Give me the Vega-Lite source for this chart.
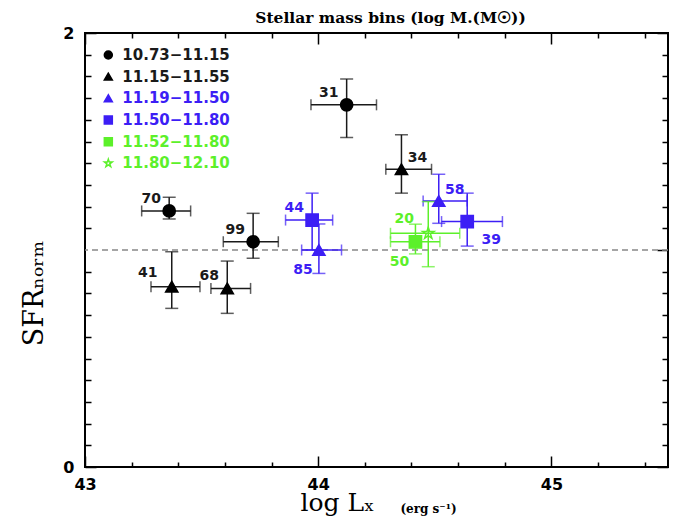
{
  "$schema": "https://vega.github.io/schema/vega-lite/v6.json",
  "width": 583,
  "height": 434,
  "autosize": "none",
  "padding": {"left": 85, "top": 33, "right": 5, "bottom": 52},
  "background": "white",
  "title": {"text": "Stellar mass bins (log M.(M☉))", "font": "DejaVu Serif", "fontSize": 15.5, "fontWeight": "bold", "anchor": "middle", "dx": 14, "offset": -13, "baseline": "alphabetic", "color": "black"},
  "config": {
    "view": {"stroke": "black", "strokeWidth": 2},
    "axis": {"domain": false, "grid": false, "tickColor": "black", "tickWidth": 1.5, "labelColor": "black", "labelFont": "DejaVu Sans", "labelFontWeight": "bold", "labelFontSize": 16, "titleColor": "black", "labelFlush": false}
  },
  "data": {"values": [
    {"n": "70", "g": "10.73−11.15", "x": 43.361, "y": 1.18, "xlo": 43.243, "xhi": 43.453, "ylo": 1.143, "yhi": 1.243},
    {"n": "99", "g": "10.73−11.15", "x": 43.721, "y": 1.038, "xlo": 43.593, "xhi": 43.829, "ylo": 0.962, "yhi": 1.169},
    {"n": "31", "g": "10.73−11.15", "x": 44.122, "y": 1.669, "xlo": 43.969, "xhi": 44.25, "ylo": 1.518, "yhi": 1.788},
    {"n": "41", "g": "11.15−11.55", "x": 43.372, "y": 0.831, "xlo": 43.283, "xhi": 43.493, "ylo": 0.731, "yhi": 0.992},
    {"n": "68", "g": "11.15−11.55", "x": 43.61, "y": 0.823, "xlo": 43.54, "xhi": 43.71, "ylo": 0.708, "yhi": 0.949},
    {"n": "34", "g": "11.15−11.55", "x": 44.357, "y": 1.372, "xlo": 44.29, "xhi": 44.486, "ylo": 1.262, "yhi": 1.531},
    {"n": "85", "g": "11.19−11.50", "x": 44.003, "y": 1.0, "xlo": 43.929, "xhi": 44.1, "ylo": 0.892, "yhi": 1.12},
    {"n": "58", "g": "11.19−11.50", "x": 44.517, "y": 1.226, "xlo": 44.45, "xhi": 44.639, "ylo": 1.123, "yhi": 1.349},
    {"n": "44", "g": "11.50−11.80", "x": 43.974, "y": 1.138, "xlo": 43.86, "xhi": 44.062, "ylo": 1.0, "yhi": 1.262},
    {"n": "39", "g": "11.50−11.80", "x": 44.639, "y": 1.131, "xlo": 44.529, "xhi": 44.79, "ylo": 1.018, "yhi": 1.262},
    {"n": "50", "g": "11.52−11.80", "x": 44.417, "y": 1.038, "xlo": 44.31, "xhi": 44.522, "ylo": 0.982, "yhi": 1.119},
    {"n": "20", "g": "11.80−12.10", "x": 44.472, "y": 1.077, "xlo": 44.31, "xhi": 44.607, "ylo": 0.923, "yhi": 1.223}
  ]},
  "resolve": {"scale": {"y": "independent"}, "axis": {"x": "independent", "y": "independent"}},
  "layer": [
    {
      "data": {"values": [{}]},
      "mark": {"type": "rule", "strokeDash": [6, 4], "color": "#888888", "strokeWidth": 1.5},
      "encoding": {"y": {"datum": 1, "type": "quantitative", "scale": {"domain": [0, 2], "nice": false, "zero": false}, "axis": null}}
    },
    {
      "mark": {"type": "errorbar", "ticks": {"size": 11}, "thickness": 1.5},
      "encoding": {
        "x": {"field": "xlo", "type": "quantitative", "scale": {"domain": [43, 45.5], "nice": false, "zero": false}, "axis": null},
        "x2": {"field": "xhi"},
        "y": {"field": "y", "type": "quantitative", "scale": {"domain": [0, 2], "nice": false, "zero": false}, "axis": null},
        "color": {"field": "g", "type": "nominal", "scale": {"domain": ["10.73−11.15", "11.15−11.55", "11.19−11.50", "11.50−11.80", "11.52−11.80", "11.80−12.10"], "range": ["#1a1a1a", "#1a1a1a", "#3c1ef5", "#3c1ef5", "#5cf02a", "#5cf02a"]}, "legend": null}
      }
    },
    {
      "mark": {"type": "errorbar", "ticks": {"size": 13}, "thickness": 1.5},
      "encoding": {
        "y": {"field": "ylo", "type": "quantitative", "scale": {"domain": [0, 2], "nice": false, "zero": false}, "axis": null},
        "y2": {"field": "yhi"},
        "x": {"field": "x", "type": "quantitative", "scale": {"domain": [43, 45.5], "nice": false, "zero": false}, "axis": null},
        "color": {"field": "g", "type": "nominal", "scale": {"domain": ["10.73−11.15", "11.15−11.55", "11.19−11.50", "11.50−11.80", "11.52−11.80", "11.80−12.10"], "range": ["#1a1a1a", "#1a1a1a", "#3c1ef5", "#3c1ef5", "#5cf02a", "#5cf02a"]}, "legend": null}
      }
    },
    {
      "mark": {"type": "point", "size": 150, "strokeWidth": 1.5, "opacity": 1},
      "encoding": {
        "x": {"field": "x", "type": "quantitative", "scale": {"domain": [43, 45.5], "nice": false, "zero": false},
              "axis": {"orient": "bottom", "values": [43, 44, 45], "tickSize": -11, "labelPadding": 20, "format": "d", "title": "log Lₓ", "titleFont": "DejaVu Serif", "titleFontSize": 25, "titleFontWeight": "normal", "titleX": 252, "titleY": 43, "titleBaseline": "alphabetic", "titleAlign": "center"}},
        "y": {"field": "y", "type": "quantitative", "scale": {"domain": [0, 2], "nice": false, "zero": false},
              "axis": {"orient": "left", "values": [0, 1, 2], "tickSize": -11, "labelPadding": 22, "format": "d", "title": "SFRₙₒᵣₘ", "titleFont": "DejaVu Serif", "titleFontSize": 27, "titleFontWeight": "normal", "titleX": -43, "titleY": 260, "titleAngle": -90, "titleBaseline": "alphabetic", "titleAlign": "center"}},
        "shape": {"field": "g", "type": "nominal",
                  "scale": {"domain": ["10.73−11.15", "11.15−11.55", "11.19−11.50", "11.50−11.80", "11.52−11.80", "11.80−12.10"], "range": ["circle", "triangle-up", "triangle-up", "square", "square", "M0,-1L0.2245,-0.309L0.9511,-0.309L0.3633,0.118L0.5878,0.809L0,0.382L-0.5878,0.809L-0.3633,0.118L-0.9511,-0.309L-0.2245,-0.309Z"]},
                  "legend": null},
        "fill": {"field": "g", "type": "nominal", "scale": {"domain": ["10.73−11.15", "11.15−11.55", "11.19−11.50", "11.50−11.80", "11.52−11.80", "11.80−12.10"], "range": ["#000000", "#000000", "#3c1ef5", "#3c1ef5", "#5cf02a", "transparent"]}, "legend": null},
        "stroke": {"field": "g", "type": "nominal", "scale": {"domain": ["10.73−11.15", "11.15−11.55", "11.19−11.50", "11.50−11.80", "11.52−11.80", "11.80−12.10"], "range": ["#000000", "#000000", "#3c1ef5", "#3c1ef5", "#5cf02a", "#5cf02a"]}, "legend": null}
      }
    },
    {
      "data": {"values": [{"g": "10.73−11.15"}, {"g": "11.15−11.55"}, {"g": "11.19−11.50"}, {"g": "11.50−11.80"}, {"g": "11.52−11.80"}, {"g": "11.80−12.10"}]},
      "mark": {"type": "point", "size": 64, "strokeWidth": 1.5, "opacity": 1},
      "encoding": {
        "x": {"datum": 43.1, "type": "quantitative", "scale": {"domain": [43, 45.5], "nice": false, "zero": false}, "axis": null},
        "y": {"field": "g", "type": "ordinal", "scale": {"type": "point", "domain": ["10.73−11.15", "11.15−11.55", "11.19−11.50", "11.50−11.80", "11.52−11.80", "11.80−12.10"], "range": [22, 130.3], "padding": 0}, "axis": null},
        "shape": {"field": "g", "type": "nominal", "legend": null},
        "fill": {"field": "g", "type": "nominal", "legend": null},
        "stroke": {"field": "g", "type": "nominal", "legend": null}
      }
    },
    {
      "data": {"values": [{"g": "10.73−11.15"}, {"g": "11.15−11.55"}, {"g": "11.19−11.50"}, {"g": "11.50−11.80"}, {"g": "11.52−11.80"}, {"g": "11.80−12.10"}]},
      "mark": {"type": "text", "font": "DejaVu Sans", "fontSize": 15, "fontWeight": "bold", "align": "left", "baseline": "middle", "dx": 14},
      "encoding": {
        "x": {"datum": 43.1, "type": "quantitative", "scale": {"domain": [43, 45.5], "nice": false, "zero": false}, "axis": null},
        "y": {"field": "g", "type": "ordinal", "scale": {"type": "point", "domain": ["10.73−11.15", "11.15−11.55", "11.19−11.50", "11.50−11.80", "11.52−11.80", "11.80−12.10"], "range": [22, 130.3], "padding": 0}, "axis": null},
        "text": {"field": "g"},
        "color": {"field": "g", "type": "nominal", "scale": {"domain": ["10.73−11.15", "11.15−11.55", "11.19−11.50", "11.50−11.80", "11.52−11.80", "11.80−12.10"], "range": ["#1a1a1a", "#1a1a1a", "#3c1ef5", "#3c1ef5", "#5cf02a", "#5cf02a"]}, "legend": null}
      }
    },
    {
      "transform": [{"filter": "indexof(['70','99','31','68','44'], datum.n) >= 0"}],
      "mark": {"type": "text", "font": "DejaVu Sans", "fontSize": 14, "fontWeight": "bold", "dx": -18, "dy": -12, "align": "center", "baseline": "middle"},
      "encoding": {
        "x": {"field": "x", "type": "quantitative", "scale": {"domain": [43, 45.5], "nice": false, "zero": false},
              "axis": {"orient": "bottom", "values": [43.2, 43.4, 43.6, 43.8, 44.2, 44.4, 44.6, 44.8, 45.2, 45.4], "tickSize": -5, "labels": false, "title": "(erg s⁻¹)", "titleFont": "DejaVu Serif", "titleFontSize": 12, "titleFontWeight": "bold", "titleX": 343, "titleY": 45, "titleBaseline": "alphabetic", "titleAlign": "center"}},
        "y": {"field": "y", "type": "quantitative", "scale": {"domain": [0, 2], "nice": false, "zero": false},
              "axis": {"orient": "left", "values": [0.1, 0.2, 0.3, 0.4, 0.5, 0.6, 0.7, 0.8, 0.9, 1.1, 1.2, 1.3, 1.4, 1.5, 1.6, 1.7, 1.8, 1.9], "tickSize": -6, "labels": false, "title": null}},
        "text": {"field": "n"},
        "color": {"field": "g", "type": "nominal", "scale": {"domain": ["10.73−11.15", "11.15−11.55", "11.19−11.50", "11.50−11.80", "11.52−11.80", "11.80−12.10"], "range": ["#1a1a1a", "#1a1a1a", "#3c1ef5", "#3c1ef5", "#5cf02a", "#5cf02a"]}, "legend": null}
      }
    },
    {
      "transform": [{"filter": "indexof(['41','20'], datum.n) >= 0"}],
      "mark": {"type": "text", "font": "DejaVu Sans", "fontSize": 14, "fontWeight": "bold", "dx": -24, "dy": -14, "align": "center", "baseline": "middle"},
      "encoding": {
        "x": {"field": "x", "type": "quantitative", "scale": {"domain": [43, 45.5], "nice": false, "zero": false},
              "axis": {"orient": "top", "values": [43, 44, 45], "tickSize": -11, "labels": false, "title": null}},
        "y": {"field": "y", "type": "quantitative", "scale": {"domain": [0, 2], "nice": false, "zero": false},
              "axis": {"orient": "right", "values": [0, 1, 2], "tickSize": -11, "labels": false, "title": null}},
        "text": {"field": "n"},
        "color": {"field": "g", "type": "nominal", "scale": {"domain": ["10.73−11.15", "11.15−11.55", "11.19−11.50", "11.50−11.80", "11.52−11.80", "11.80−12.10"], "range": ["#1a1a1a", "#1a1a1a", "#3c1ef5", "#3c1ef5", "#5cf02a", "#5cf02a"]}, "legend": null}
      }
    },
    {
      "transform": [{"filter": "indexof(['34','58'], datum.n) >= 0"}],
      "mark": {"type": "text", "font": "DejaVu Sans", "fontSize": 14, "fontWeight": "bold", "dx": 16, "dy": -11, "align": "center", "baseline": "middle"},
      "encoding": {
        "x": {"field": "x", "type": "quantitative", "scale": {"domain": [43, 45.5], "nice": false, "zero": false},
              "axis": {"orient": "top", "values": [43.2, 43.4, 43.6, 43.8, 44.2, 44.4, 44.6, 44.8, 45.2, 45.4], "tickSize": -5, "labels": false, "title": null}},
        "y": {"field": "y", "type": "quantitative", "scale": {"domain": [0, 2], "nice": false, "zero": false},
              "axis": {"orient": "right", "values": [0.1, 0.2, 0.3, 0.4, 0.5, 0.6, 0.7, 0.8, 0.9, 1.1, 1.2, 1.3, 1.4, 1.5, 1.6, 1.7, 1.8, 1.9], "tickSize": -6, "labels": false, "title": null}},
        "text": {"field": "n"},
        "color": {"field": "g", "type": "nominal", "scale": {"domain": ["10.73−11.15", "11.15−11.55", "11.19−11.50", "11.50−11.80", "11.52−11.80", "11.80−12.10"], "range": ["#1a1a1a", "#1a1a1a", "#3c1ef5", "#3c1ef5", "#5cf02a", "#5cf02a"]}, "legend": null}
      }
    },
    {
      "transform": [{"filter": "indexof(['85','50'], datum.n) >= 0"}],
      "mark": {"type": "text", "font": "DejaVu Sans", "fontSize": 14, "fontWeight": "bold", "dx": -16, "dy": 20, "align": "center", "baseline": "middle"},
      "encoding": {
        "x": {"field": "x", "type": "quantitative", "scale": {"domain": [43, 45.5], "nice": false, "zero": false}, "axis": null},
        "y": {"field": "y", "type": "quantitative", "scale": {"domain": [0, 2], "nice": false, "zero": false}, "axis": null},
        "text": {"field": "n"},
        "color": {"field": "g", "type": "nominal", "scale": {"domain": ["10.73−11.15", "11.15−11.55", "11.19−11.50", "11.50−11.80", "11.52−11.80", "11.80−12.10"], "range": ["#1a1a1a", "#1a1a1a", "#3c1ef5", "#3c1ef5", "#5cf02a", "#5cf02a"]}, "legend": null}
      }
    },
    {
      "transform": [{"filter": "datum.n === '39'"}],
      "mark": {"type": "text", "font": "DejaVu Sans", "fontSize": 14, "fontWeight": "bold", "dx": 24, "dy": 18, "align": "center", "baseline": "middle"},
      "encoding": {
        "x": {"field": "x", "type": "quantitative", "scale": {"domain": [43, 45.5], "nice": false, "zero": false}, "axis": null},
        "y": {"field": "y", "type": "quantitative", "scale": {"domain": [0, 2], "nice": false, "zero": false}, "axis": null},
        "text": {"field": "n"},
        "color": {"field": "g", "type": "nominal", "scale": {"domain": ["10.73−11.15", "11.15−11.55", "11.19−11.50", "11.50−11.80", "11.52−11.80", "11.80−12.10"], "range": ["#1a1a1a", "#1a1a1a", "#3c1ef5", "#3c1ef5", "#5cf02a", "#5cf02a"]}, "legend": null}
      }
    }
  ]
}
